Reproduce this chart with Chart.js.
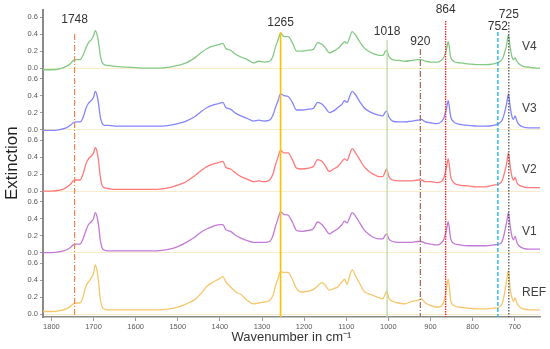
<!DOCTYPE html>
<html><head><meta charset="utf-8">
<script src="https://cdn.jsdelivr.net/npm/chart.js@4/dist/chart.umd.min.js"></script>
<style>html,body{margin:0;padding:0;background:#fff;} #wrap{width:550px;height:349px;position:relative;}</style>
</head><body><div id="wrap"><canvas id="c"></canvas></div>
<script>
// Wavenumber axis (cm-1)
const wavenumbers = [
 1820,1800,1780,1765,1755,1748,1740,1732,1725,1718,
 1712,1706,1700,1696,1692,1688,1684,1680,1675,1665,
 1650,1620,1580,1550,1520,1500,1480,1460,1445,1430,
 1415,1400,1393,1386,1375,1362,1350,1335,1320,1308,
 1295,1282,1274,1268,1262,1256,1248,1238,1228,1218,
 1205,1190,1178,1168,1158,1150,1140,1130,1120,1110,
 1104,1098,1092,1086,1078,1068,1058,1048,1036,1022,
 1013,1008,1004,999,990,975,960,945,930,922,
 912,900,885,875,868,862,858,852,845,830,
 810,790,770,750,738,730,724,719,715,711,
 707,703,699,695,690,680,665,650,640];
const v4 = [
 -0.02,-0.02,-0.01,0.02,0.05,0.09,0.10,0.10,0.15,0.24,
 0.30,0.33,0.38,0.44,0.40,0.30,0.15,0.07,0.04,0.03,
 0.02,0.01,0.00,0.00,0.01,0.03,0.06,0.12,0.18,0.23,
 0.26,0.28,0.29,0.23,0.21,0.16,0.13,0.10,0.06,0.08,
 0.07,0.08,0.14,0.25,0.33,0.41,0.37,0.37,0.30,0.20,
 0.20,0.21,0.22,0.30,0.28,0.24,0.18,0.20,0.23,0.28,
 0.31,0.29,0.36,0.43,0.39,0.31,0.24,0.20,0.17,0.15,
 0.15,0.19,0.21,0.14,0.10,0.09,0.08,0.09,0.10,0.10,
 0.08,0.07,0.07,0.09,0.13,0.22,0.31,0.13,0.08,0.06,
 0.05,0.04,0.04,0.05,0.07,0.10,0.18,0.28,0.39,0.25,
 0.14,0.10,0.12,0.08,0.05,0.02,0.01,0.00,0.00];
const v3 = [
 -0.01,-0.01,0.00,0.02,0.05,0.08,0.09,0.09,0.14,0.25,
 0.31,0.34,0.38,0.45,0.41,0.30,0.15,0.08,0.05,0.05,
 0.04,0.04,0.04,0.04,0.05,0.07,0.10,0.15,0.21,0.26,
 0.29,0.31,0.32,0.26,0.24,0.19,0.16,0.13,0.10,0.11,
 0.10,0.11,0.17,0.26,0.34,0.42,0.40,0.39,0.32,0.23,
 0.23,0.24,0.25,0.32,0.30,0.26,0.20,0.22,0.26,0.30,
 0.34,0.32,0.39,0.45,0.41,0.33,0.26,0.22,0.19,0.17,
 0.16,0.20,0.22,0.15,0.10,0.09,0.09,0.10,0.11,0.12,
 0.09,0.08,0.07,0.09,0.14,0.25,0.34,0.15,0.09,0.06,
 0.05,0.04,0.04,0.05,0.07,0.11,0.20,0.31,0.42,0.28,
 0.16,0.12,0.16,0.10,0.06,0.03,0.02,0.02,0.02];
const v2 = [
 0.00,0.00,0.01,0.04,0.08,0.12,0.13,0.13,0.20,0.32,
 0.38,0.41,0.45,0.51,0.47,0.35,0.17,0.07,0.04,0.03,
 0.02,0.02,0.02,0.02,0.04,0.07,0.11,0.18,0.24,0.29,
 0.32,0.34,0.35,0.28,0.26,0.21,0.17,0.14,0.11,0.12,
 0.11,0.13,0.20,0.31,0.40,0.48,0.45,0.45,0.37,0.27,
 0.26,0.27,0.29,0.37,0.35,0.30,0.23,0.26,0.29,0.35,
 0.38,0.36,0.43,0.50,0.45,0.37,0.29,0.24,0.20,0.17,
 0.17,0.22,0.26,0.17,0.13,0.12,0.12,0.12,0.13,0.13,
 0.11,0.11,0.10,0.11,0.16,0.28,0.38,0.17,0.10,0.07,
 0.06,0.05,0.05,0.07,0.08,0.12,0.22,0.33,0.45,0.30,
 0.18,0.13,0.16,0.10,0.07,0.05,0.04,0.04,0.04];
const v1 = [
 0.00,0.00,0.01,0.03,0.06,0.09,0.10,0.10,0.16,0.26,
 0.33,0.36,0.40,0.47,0.43,0.32,0.15,0.06,0.03,0.02,
 0.02,0.02,0.02,0.02,0.04,0.07,0.12,0.18,0.24,0.28,
 0.31,0.33,0.33,0.27,0.25,0.20,0.17,0.14,0.12,0.12,
 0.12,0.13,0.20,0.31,0.40,0.48,0.45,0.44,0.36,0.26,
 0.25,0.26,0.28,0.36,0.33,0.28,0.22,0.25,0.28,0.33,
 0.37,0.35,0.41,0.47,0.43,0.35,0.27,0.22,0.18,0.16,
 0.16,0.20,0.22,0.16,0.13,0.12,0.12,0.12,0.13,0.13,
 0.11,0.10,0.09,0.11,0.16,0.27,0.36,0.16,0.11,0.09,
 0.08,0.08,0.08,0.09,0.10,0.13,0.24,0.36,0.47,0.32,
 0.20,0.15,0.19,0.12,0.08,0.05,0.04,0.04,0.04];
const ref = [
 0.03,0.03,0.04,0.06,0.09,0.12,0.13,0.13,0.20,0.33,
 0.38,0.42,0.48,0.58,0.52,0.38,0.18,0.09,0.06,0.05,
 0.05,0.05,0.05,0.05,0.06,0.08,0.12,0.17,0.24,0.33,
 0.38,0.42,0.44,0.38,0.32,0.26,0.23,0.16,0.12,0.13,
 0.14,0.16,0.22,0.33,0.42,0.50,0.49,0.49,0.41,0.30,
 0.26,0.27,0.29,0.33,0.37,0.34,0.28,0.30,0.32,0.38,
 0.41,0.35,0.45,0.52,0.45,0.36,0.27,0.24,0.22,0.19,
 0.18,0.23,0.27,0.19,0.15,0.13,0.12,0.15,0.16,0.18,
 0.13,0.10,0.08,0.09,0.15,0.30,0.41,0.16,0.10,0.08,
 0.07,0.06,0.06,0.07,0.08,0.12,0.25,0.40,0.51,0.30,
 0.20,0.15,0.19,0.13,0.09,0.06,0.05,0.05,0.05];

const seriesNames = ['V4','V3','V2','V1','REF'];
const seriesValues = [v4, v3, v2, v1, ref];
const seriesColors = ['#84c984','#8585ff','#ff7a7a','#c47ad6','#f6c66a'];
const xTicks = [1800,1700,1600,1500,1400,1300,1200,1100,1000,900,800,700];
const yTicks = [0, 0.2, 0.4, 0.6];
const markerLabels = ['1748','1265','1018','920','864','752','725'];
const markerPositions = [1745,1256,1003,924,864,740,714];

// styling for marker lines (not data)
const markerStyles = [
 {color:'#f0874a', dash:[6,2,1,2], width:1.2, labelY:20, lineTop:34},
 {color:'#ffc000', dash:[], width:1.6, labelY:23, lineTop:32},
 {color:'#b8dca0', dash:[], width:1.3, labelY:32, lineTop:40},
 {color:'#a0705a', dash:[6,2,1,2], width:1.3, labelY:42, lineTop:49},
 {color:'#ff2020', dash:[1.5,1], width:1.3, labelY:10, lineTop:21},
 {color:'#12b4f0', dash:[4,2], width:1.3, labelY:27, lineTop:32},
 {color:'#333333', dash:[1.5,1.5], width:1.1, labelY:15, lineTop:22}
];

const markerPlugin = {
  id: 'markers',
  afterDatasetsDraw(chart) {
    const ctx = chart.ctx, xs = chart.scales.x, area = chart.chartArea;
    ctx.save();
    markerPositions.forEach((pos, i) => {
      const st = markerStyles[i];
      const px = xs.getPixelForValue(pos);
      ctx.beginPath();
      ctx.setLineDash(st.dash);
      ctx.strokeStyle = st.color;
      ctx.lineWidth = st.width;
      ctx.moveTo(px, st.lineTop);
      ctx.lineTo(px, area.bottom);
      ctx.stroke();
      ctx.setLineDash([]);
      ctx.fillStyle = '#333';
      ctx.font = '12px "Liberation Sans", Arial, sans-serif';
      ctx.textAlign = 'center';
      ctx.textBaseline = 'middle';
      ctx.fillText(markerLabels[i], px, st.labelY);
    });
    ctx.fillStyle = '#404040';
    ctx.font = '12px "Liberation Sans", Arial, sans-serif';
    ctx.textAlign = 'left';
    ctx.textBaseline = 'middle';
    seriesNames.forEach((n, i) => {
      const ys = chart.scales['y' + i];
      ctx.fillText(n, 522, ys.getPixelForValue(0.25));
    });
    ctx.restore();
  }
};

const scales = {
  x: {
    type: 'linear', reverse: true, min: 640, max: 1820,
    afterBuildTicks: s => { s.ticks = xTicks.map(v => ({value: v})); },
    afterFit: s => { s.height = 32; },
    ticks: { font: {size: 7.5, family: '"Liberation Sans", Arial'}, color: '#595959', padding: 1, maxRotation: 0, autoSkip: false, callback: v => String(v) },
    grid: { drawOnChartArea: false, tickLength: 4, color: '#9a9a9a' },
    border: { color: '#8a8a8a', width: 1.5 },
    title: { display: true, text: 'Wavenumber in cm\u207B\u00B9', font: {size: 13, family: '"Liberation Sans", Arial'}, color: '#333', padding: {top: 0, bottom: 4} }
  }
};
// stacked axes: first defined is placed at the bottom, so define REF first
for (let i = seriesNames.length - 1; i >= 0; i--) {
  scales['y' + i] = {
    type: 'linear', position: 'left', stack: 'panels', stackWeight: 1,
    min: -0.035, max: 0.69,
    afterBuildTicks: s => { s.ticks = yTicks.map(v => ({value: v})); },
    afterFit: s => { s.width = 43; },
    ticks: { font: {size: 7.5, family: '"Liberation Sans", Arial'}, color: '#595959', padding: 2, autoSkip: false, callback: v => Number(v).toFixed(1) },
    grid: {
      color: c => (c.tick && c.tick.value === 0) ? 'rgba(245,228,180,0.7)' : 'rgba(0,0,0,0)',
      tickColor: '#9a9a9a', tickLength: 3, lineWidth: 1
    },
    border: { color: '#8a8a8a', width: 2 },
    title: { display: i === 2, text: 'Extinction', font: {size: 17, family: '"Liberation Sans", Arial'}, color: '#222', padding: 2 }
  };
}

new Chart(document.getElementById('c'), {
  type: 'line',
  data: {
    datasets: seriesNames.map((n, i) => ({
      label: n,
      data: wavenumbers.map((w, k) => ({x: w, y: seriesValues[i][k]})),
      yAxisID: 'y' + i, xAxisID: 'x',
      borderColor: seriesColors[i], borderWidth: 1.3,
      pointRadius: 0, cubicInterpolationMode: 'monotone', fill: false
    }))
  },
  options: {
    responsive: true, maintainAspectRatio: false, animation: false, devicePixelRatio: 1,
    layout: { padding: {top: 9.5, right: 10, bottom: 0, left: 0} },
    plugins: { legend: {display: false}, tooltip: {enabled: false} },
    scales
  },
  plugins: [markerPlugin]
});
</script></body></html>
